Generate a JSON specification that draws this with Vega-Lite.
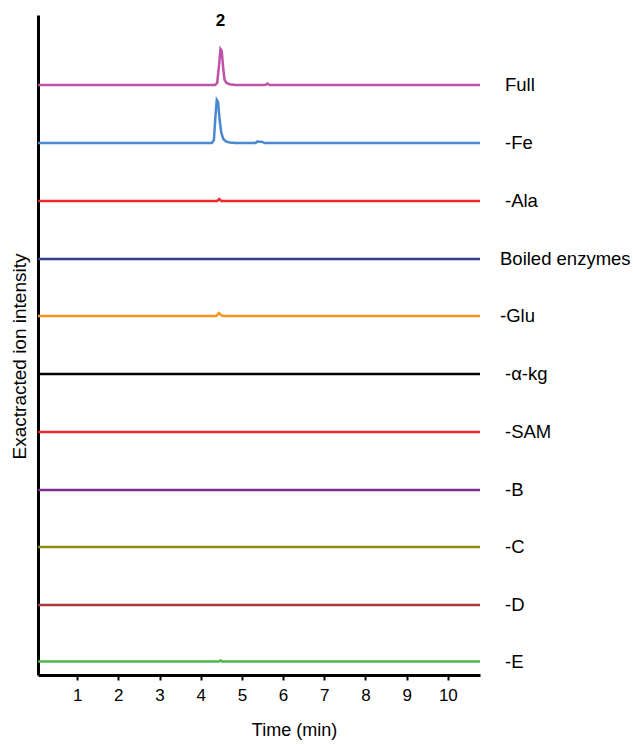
{
  "$schema": "https://vega.github.io/schema/vega-lite/v6.json",
  "autosize": "none",
  "width": 442,
  "height": 660,
  "padding": {"left": 38, "top": 15, "right": 153, "bottom": 69},
  "background": "white",
  "config": {"view": {"stroke": null}, "font": "Liberation Sans"},
  "datasets": {
    "traces": [
      {"s": "Full", "t": 0.05, "signal": 590},
      {"s": "Full", "t": 4.35, "signal": 590},
      {"s": "Full", "t": 4.4, "signal": 592},
      {"s": "Full", "t": 4.45, "signal": 612},
      {"s": "Full", "t": 4.48, "signal": 626},
      {"s": "Full", "t": 4.51, "signal": 624},
      {"s": "Full", "t": 4.55, "signal": 605},
      {"s": "Full", "t": 4.58, "signal": 595},
      {"s": "Full", "t": 4.63, "signal": 592},
      {"s": "Full", "t": 4.7, "signal": 590.8},
      {"s": "Full", "t": 4.85, "signal": 590},
      {"s": "Full", "t": 5.57, "signal": 590},
      {"s": "Full", "t": 5.62, "signal": 591.5},
      {"s": "Full", "t": 5.67, "signal": 590},
      {"s": "Full", "t": 10.78, "signal": 590},
      {"s": "-Fe", "t": 0.05, "signal": 532},
      {"s": "-Fe", "t": 4.27, "signal": 532},
      {"s": "-Fe", "t": 4.32, "signal": 535},
      {"s": "-Fe", "t": 4.36, "signal": 560},
      {"s": "-Fe", "t": 4.39, "signal": 575},
      {"s": "-Fe", "t": 4.42, "signal": 573},
      {"s": "-Fe", "t": 4.46, "signal": 555},
      {"s": "-Fe", "t": 4.5, "signal": 542},
      {"s": "-Fe", "t": 4.55, "signal": 536},
      {"s": "-Fe", "t": 4.61, "signal": 533.5},
      {"s": "-Fe", "t": 4.7, "signal": 532.5},
      {"s": "-Fe", "t": 4.85, "signal": 532},
      {"s": "-Fe", "t": 5.33, "signal": 532},
      {"s": "-Fe", "t": 5.37, "signal": 533.5},
      {"s": "-Fe", "t": 5.5, "signal": 533},
      {"s": "-Fe", "t": 5.55, "signal": 532},
      {"s": "-Fe", "t": 10.78, "signal": 532},
      {"s": "-Ala", "t": 0.05, "signal": 474},
      {"s": "-Ala", "t": 4.4, "signal": 474},
      {"s": "-Ala", "t": 4.45, "signal": 476},
      {"s": "-Ala", "t": 4.5, "signal": 474},
      {"s": "-Ala", "t": 10.78, "signal": 474},
      {"s": "Boiled enzymes", "t": 0.05, "signal": 416},
      {"s": "Boiled enzymes", "t": 10.78, "signal": 416},
      {"s": "-Glu", "t": 0.05, "signal": 359},
      {"s": "-Glu", "t": 4.38, "signal": 359},
      {"s": "-Glu", "t": 4.44, "signal": 362},
      {"s": "-Glu", "t": 4.5, "signal": 359.6},
      {"s": "-Glu", "t": 4.57, "signal": 359},
      {"s": "-Glu", "t": 10.78, "signal": 359},
      {"s": "-α-kg", "t": 0.05, "signal": 301},
      {"s": "-α-kg", "t": 10.78, "signal": 301},
      {"s": "-SAM", "t": 0.05, "signal": 243},
      {"s": "-SAM", "t": 10.78, "signal": 243},
      {"s": "-B", "t": 0.05, "signal": 185},
      {"s": "-B", "t": 10.78, "signal": 185},
      {"s": "-C", "t": 0.05, "signal": 128},
      {"s": "-C", "t": 10.78, "signal": 128},
      {"s": "-D", "t": 0.05, "signal": 70},
      {"s": "-D", "t": 10.78, "signal": 70},
      {"s": "-E", "t": 0.05, "signal": 13.5},
      {"s": "-E", "t": 4.44, "signal": 13.5},
      {"s": "-E", "t": 4.48, "signal": 14.6},
      {"s": "-E", "t": 4.52, "signal": 13.5},
      {"s": "-E", "t": 10.78, "signal": 13.5}
    ],
    "peaklabel": [{"label": "2", "t": 4.48, "signal": 654}]
  },
  "layer": [
    {
      "data": {"name": "traces"},
      "mark": {"type": "line", "strokeWidth": 2.5, "clip": false},
      "encoding": {
        "x": {
          "field": "t", "type": "quantitative",
          "scale": {"domain": [0.05, 10.78], "nice": false, "zero": false},
          "axis": {
            "values": [1, 2, 3, 4, 5, 6, 7, 8, 9, 10],
            "title": "Time (min)",
            "grid": false,
            "domainColor": "black", "domainWidth": 3,
            "tickColor": "black", "tickWidth": 2, "tickSize": 5,
            "labelFontSize": 17, "labelColor": "black", "labelPadding": 7,
            "titleFontSize": 18, "titleFontWeight": "normal", "titleColor": "black",
            "titlePadding": 18, "titleX": 256
          }
        },
        "y": {
          "field": "signal", "type": "quantitative",
          "scale": {"domain": [0, 660], "nice": false},
          "axis": {
            "title": "Exactracted ion intensity",
            "ticks": false, "labels": false, "grid": false,
            "domainColor": "black", "domainWidth": 3,
            "titleFontSize": 19, "titleFontWeight": "normal", "titleColor": "black",
            "titlePadding": 9, "titleY": 341
          }
        },
        "color": {
          "field": "s", "type": "nominal",
          "scale": {
            "domain": ["Full", "-Fe", "-Ala", "Boiled enzymes", "-Glu", "-α-kg", "-SAM", "-B", "-C", "-D", "-E"],
            "range": ["#c052a5", "#4a88d2", "#ee2a2e", "#2f3d8f", "#f7931e", "#000000", "#ee2a2e", "#7b2d8e", "#8f8d1a", "#a8363a", "#4cb74a"]
          },
          "legend": null
        }
      }
    },
    {
      "data": {"name": "traces"},
      "transform": [{"filter": "datum.t == 10.78 && datum.s != 'Boiled enzymes' && datum.s != '-Glu'"}],
      "mark": {"type": "text", "align": "left", "baseline": "middle", "dx": 25, "dy": 0, "fontSize": 18.5, "color": "black", "clip": false},
      "encoding": {
        "x": {"field": "t", "type": "quantitative"},
        "y": {"field": "signal", "type": "quantitative"},
        "text": {"field": "s"}
      }
    },
    {
      "data": {"name": "traces"},
      "transform": [{"filter": "datum.t == 10.78 && (datum.s == 'Boiled enzymes' || datum.s == '-Glu')"}],
      "mark": {"type": "text", "align": "left", "baseline": "middle", "dx": 20, "dy": 0, "fontSize": 18.5, "color": "black", "clip": false},
      "encoding": {
        "x": {"field": "t", "type": "quantitative"},
        "y": {"field": "signal", "type": "quantitative"},
        "text": {"field": "s"}
      }
    },
    {
      "data": {"name": "peaklabel"},
      "mark": {"type": "text", "align": "center", "baseline": "middle", "fontSize": 17, "fontWeight": "bold", "color": "black", "clip": false},
      "encoding": {
        "x": {"field": "t", "type": "quantitative"},
        "y": {"field": "signal", "type": "quantitative"},
        "text": {"field": "label"}
      }
    }
  ]
}
